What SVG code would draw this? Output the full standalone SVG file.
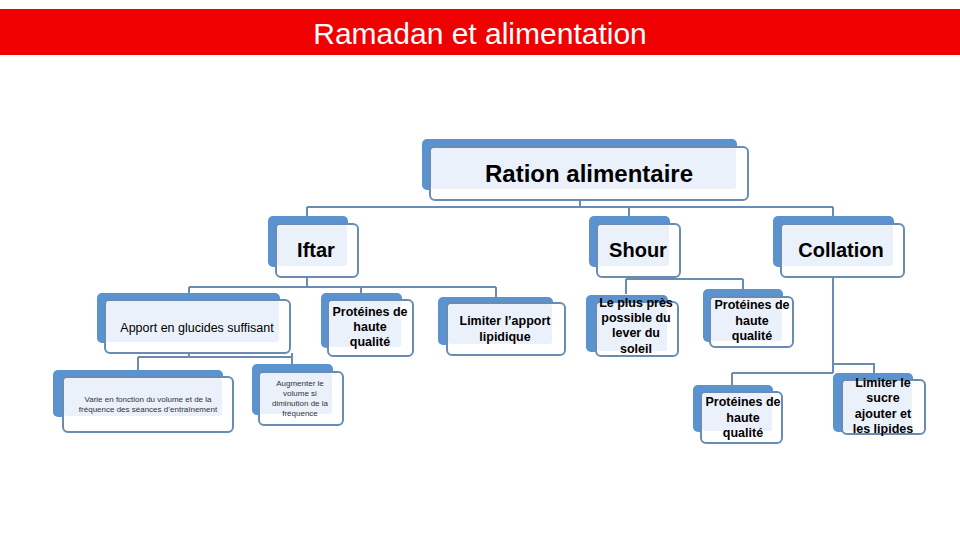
<svg xmlns="http://www.w3.org/2000/svg" width="960" height="540" viewBox="0 0 960 540">
<style>
.back{fill:#5B93D0}
.front{fill:#fff;stroke:#6A8CB2;stroke-width:2}
.inner{fill:#EAF1FA}
.conn{fill:none;stroke:#6A8CB2;stroke-width:2}
.t{font-family:"Liberation Sans",Arial,sans-serif;fill:#000;text-anchor:middle}
.big{font-size:24px;font-weight:bold}
.mid{font-size:20px;font-weight:bold}
.sm{font-family:"Liberation Sans Narrow","Liberation Sans",Arial,sans-serif;font-size:12.5px;font-weight:bold}
.reg{font-size:12.5px}
.tiny{font-family:"Liberation Sans Narrow","Liberation Sans",Arial,sans-serif;font-size:8px;fill:#333}
</style>
<rect x="0" y="9" width="960" height="46" fill="#F00000"/>
<text x="480" y="44" font-family="Liberation Sans, Arial, sans-serif" font-size="30" fill="#fff" text-anchor="middle">Ramadan et alimentation</text>

<g id="connectors">
<path class="conn" d="M580 200V207M307 207H833M307 207V217M629 207V217M833 207V217"/>
<path class="conn" d="M307 277V287M189 287H496M189 287V294M361 287V294M496 287V298"/>
<path class="conn" d="M629 277V279M626 279H743M626 279V294M743 279V290"/>
<path class="conn" d="M833 277V373M732 373H833M732 373V386M833 364H874V374"/>
<path class="conn" d="M189 353V357M138 357H292M138 357V371M292 353V365"/>
</g>

<g id="ration">
<rect class="back" x="422" y="139" width="315" height="51" rx="5"/>
<rect class="front" x="430" y="147" width="318" height="53" rx="5"/>
<rect class="inner" x="431" y="148" width="305" height="41" rx="3"/>
<text class="t big" x="589" y="182">Ration alimentaire</text>
</g>

<g id="iftar">
<rect class="back" x="268" y="216" width="80" height="51" rx="5"/>
<rect class="front" x="276" y="224" width="82" height="53" rx="5"/>
<rect class="inner" x="277" y="225" width="70" height="41" rx="3"/>
<text class="t mid" x="316" y="257">Iftar</text>
</g>

<g id="shour">
<rect class="back" x="589" y="216" width="81" height="51" rx="5"/>
<rect class="front" x="597" y="224" width="83" height="53" rx="5"/>
<rect class="inner" x="598" y="225" width="71" height="41" rx="3"/>
<text class="t mid" x="638" y="257">Shour</text>
</g>

<g id="collation">
<rect class="back" x="773" y="216" width="121" height="51" rx="5"/>
<rect class="front" x="781" y="224" width="123" height="53" rx="5"/>
<rect class="inner" x="782" y="225" width="111" height="41" rx="3"/>
<text class="t mid" x="841" y="257">Collation</text>
</g>

<g id="apport">
<rect class="back" x="97" y="293" width="183" height="50" rx="5"/>
<rect class="front" x="105" y="300" width="185" height="53" rx="5"/>
<rect class="inner" x="106" y="301" width="173" height="41" rx="3"/>
<text class="t reg" x="197" y="332">Apport en glucides suffisant</text>
</g>

<g id="proteines-iftar">
<rect class="back" x="321" y="293" width="81" height="55" rx="5"/>
<rect class="front" x="328" y="300" width="85" height="56" rx="5"/>
<rect class="inner" x="329" y="301" width="72" height="46" rx="3"/>
<text class="t sm" x="370" y="316">Protéines de</text>
<text class="t sm" x="370" y="331">haute</text>
<text class="t sm" x="370" y="346">qualité</text>
</g>

<g id="limiter-lipidique">
<rect class="back" x="438" y="297" width="115" height="48" rx="5"/>
<rect class="front" x="447" y="303" width="118" height="52" rx="5"/>
<rect class="inner" x="448" y="304" width="104" height="40" rx="3"/>
<text class="t sm" x="505" y="325">Limiter l’apport</text>
<text class="t sm" x="505" y="341">lipidique</text>
</g>

<g id="lever-soleil">
<rect class="back" x="586" y="295" width="82" height="57" rx="5"/>
<rect class="front" x="596" y="302" width="82" height="54" rx="5"/>
<rect class="inner" x="597" y="303" width="70" height="48" rx="3"/>
<text class="t sm" x="636" y="307">Le plus près</text>
<text class="t sm" x="636" y="322">possible du</text>
<text class="t sm" x="636" y="337">lever du</text>
<text class="t sm" x="636" y="353">soleil</text>
</g>

<g id="proteines-shour">
<rect class="back" x="703" y="289" width="80" height="53" rx="5"/>
<rect class="front" x="710" y="297" width="83" height="50" rx="5"/>
<rect class="inner" x="711" y="298" width="71" height="43" rx="3"/>
<text class="t sm" x="752" y="309">Protéines de</text>
<text class="t sm" x="752" y="325">haute</text>
<text class="t sm" x="752" y="340">qualité</text>
</g>

<g id="varie">
<rect class="back" x="53" y="370" width="170" height="47" rx="5"/>
<rect class="front" x="63" y="377" width="170" height="55" rx="5"/>
<rect class="inner" x="64" y="378" width="158" height="38" rx="3"/>
<text class="t tiny" x="148" y="402">Varie en fonction du volume et de la</text>
<text class="t tiny" x="148" y="412">fréquence des séances d’entraînement</text>
</g>

<g id="augmenter">
<rect class="back" x="252" y="364" width="81" height="51" rx="5"/>
<rect class="front" x="259" y="372" width="84" height="53" rx="5"/>
<rect class="inner" x="260" y="373" width="72" height="41" rx="3"/>
<text class="t tiny" x="300" y="386">Augmenter le</text>
<text class="t tiny" x="300" y="396">volume si</text>
<text class="t tiny" x="300" y="406">diminution de la</text>
<text class="t tiny" x="300" y="416">fréquence</text>
</g>

<g id="proteines-collation">
<rect class="back" x="693" y="385" width="80" height="47" rx="5"/>
<rect class="front" x="701" y="392" width="81" height="51" rx="5"/>
<rect class="inner" x="702" y="393" width="70" height="38" rx="3"/>
<text class="t sm" x="743" y="406">Protéines de</text>
<text class="t sm" x="743" y="422">haute</text>
<text class="t sm" x="743" y="437">qualité</text>
</g>

<g id="limiter-sucre">
<rect class="back" x="833" y="373" width="80" height="59" rx="5"/>
<rect class="front" x="842" y="380" width="83" height="54" rx="5"/>
<rect class="inner" x="843" y="381" width="69" height="50" rx="3"/>
<text class="t sm" x="883" y="387">Limiter le</text>
<text class="t sm" x="883" y="402">sucre</text>
<text class="t sm" x="883" y="418">ajouter et</text>
<text class="t sm" x="883" y="433">les lipides</text>
</g>
</svg>
